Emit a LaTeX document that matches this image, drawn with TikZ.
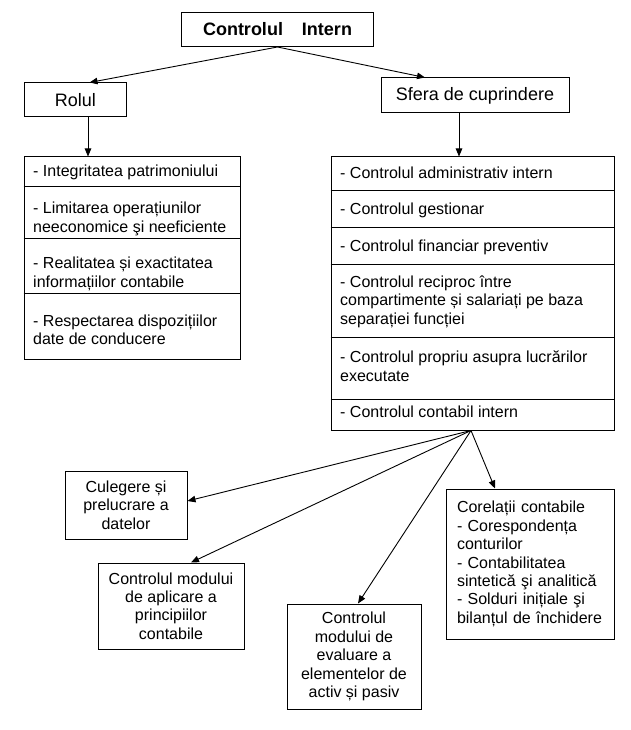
\documentclass[tikz,border=0pt]{standalone}
\usepackage{fontspec}
\setmainfont{Liberation Sans}
\usetikzlibrary{arrows.meta}
\newcommand{\itemfont}{\fontsize{16}{18.4}\selectfont}
\newcommand{\headfont}{\fontsize{18}{20.7}\selectfont}

\begin{document}
\begin{tikzpicture}[x=1pt, y=-1pt,
    box/.style={draw, line width=1pt, inner sep=0pt, font=\itemfont},
    entry/.style={inner sep=0pt, anchor=west, align=left, font=\itemfont},
    arr/.style={line width=0.9pt, -{Triangle[length=8pt, width=6.5pt]}}]
        % page frame
        \useasboundingbox[fill=white] (0,0) rectangle (630,730);
        % draw head boxes
        \node[box, minimum width=192pt, minimum height=34pt, font=\headfont\bfseries] (ctrl) at (277.5,29.5) {Controlul\hspace{19pt}Intern};
        \node[box, minimum width=102pt, minimum height=34pt, font=\headfont] (rolul) at (75.5,100) {Rolul};
        \node[box, minimum width=188pt, minimum height=35pt, font=\headfont] (sfera) at (475,95.5) {Sfera de cuprindere};
        % draw arrows from the head box
        \draw[arr] (ctrl.south) -- ([xshift=14pt]rolul.north);
        \draw[arr] (ctrl.south) -- ([xshift=-50pt]sfera.north);
        % draw the list of roles
        \node[box, minimum width=216pt, minimum height=202pt] (rolbox) at (132,258) {};
        \draw[arr] ([xshift=12.5pt]rolul.south) -- ([xshift=12.5pt]rolul.south |- rolbox.north);
        \foreach \y in {186, 238, 293}
            \draw[line width=1pt] (rolbox.west |- 0,\y) -- (rolbox.east |- 0,\y);
        \node[entry] (rol1) at (33,172) {- Integritatea patrimoniului};
        \node[entry] (rol2) at (33,219) {- Limitarea operațiunilor\\neeconomice şi neeficiente};
        \node[entry] (rol3) at (33,274) {- Realitatea și exactitatea\\informațiilor contabile};
        \node[entry] (rol4) at (33,330) {- Respectarea dispozițiilor\\date de conducere};
        % draw the list of control types
        \node[box, minimum width=283pt, minimum height=273pt] (sferbox) at (472.5,293.5) {};
        \draw[arr] ([xshift=-16pt]sfera.south) -- ([xshift=-16pt]sfera.south |- sferbox.north);
        \foreach \y in {190.5, 227, 264, 337, 399}
            \draw[line width=1pt] (sferbox.west |- 0,\y) -- (sferbox.east |- 0,\y);
        \node[entry] (sf1) at (340,172.5) {- Controlul administrativ intern};
        \node[entry] (sf2) at (340,210) {- Controlul gestionar};
        \node[entry] (sf3) at (340,247) {- Controlul financiar preventiv};
        \node[entry] (sf4) at (340,301.5) {- Controlul reciproc între\\compartimente și salariați pe baza\\separației funcției};
        \node[entry] (sf5) at (340,366) {- Controlul propriu asupra lucrărilor\\executate};
        \node[entry] (sf6) at (340,412) {- Controlul contabil intern};
        % draw parts of the accounting control
        \node[box, align=center, minimum width=122pt, minimum height=68pt] (culeg) at (126,505) {Culegere și\\prelucrare a\\datelor};
        \node[box, align=center, minimum width=146pt, minimum height=86pt] (aplic) at (171,606) {Controlul modului\\de aplicare a\\principiilor\\contabile};
        \node[box, align=center, minimum width=134pt, minimum height=105pt] (evalu) at (354,656.5) {Controlul\\modului de\\evaluare a\\elementelor de\\activ și pasiv};
        \node[box, align=left, text width=146pt, inner xsep=11pt, minimum height=150pt] (corel) at (530,564) {Corelații contabile\\- Corespondența\\conturilor\\- Contabilitatea\\sintetică şi analitică\\- Solduri inițiale şi\\bilanțul de închidere\\[-6pt]};
        % draw arrows from the accounting control
        \draw[arr] ([xshift=-1.5pt]sferbox.south) -- ([yshift=4pt]culeg.east);
        \draw[arr] ([xshift=-1.5pt]sferbox.south) -- ([xshift=20pt]aplic.north);
        \draw[arr] ([xshift=-1.5pt]sferbox.south) -- ([xshift=4pt]evalu.north);
        \draw[arr] ([xshift=-1.5pt]sferbox.south) -- ([xshift=-35pt]corel.north);
\end{tikzpicture}
\end{document}
